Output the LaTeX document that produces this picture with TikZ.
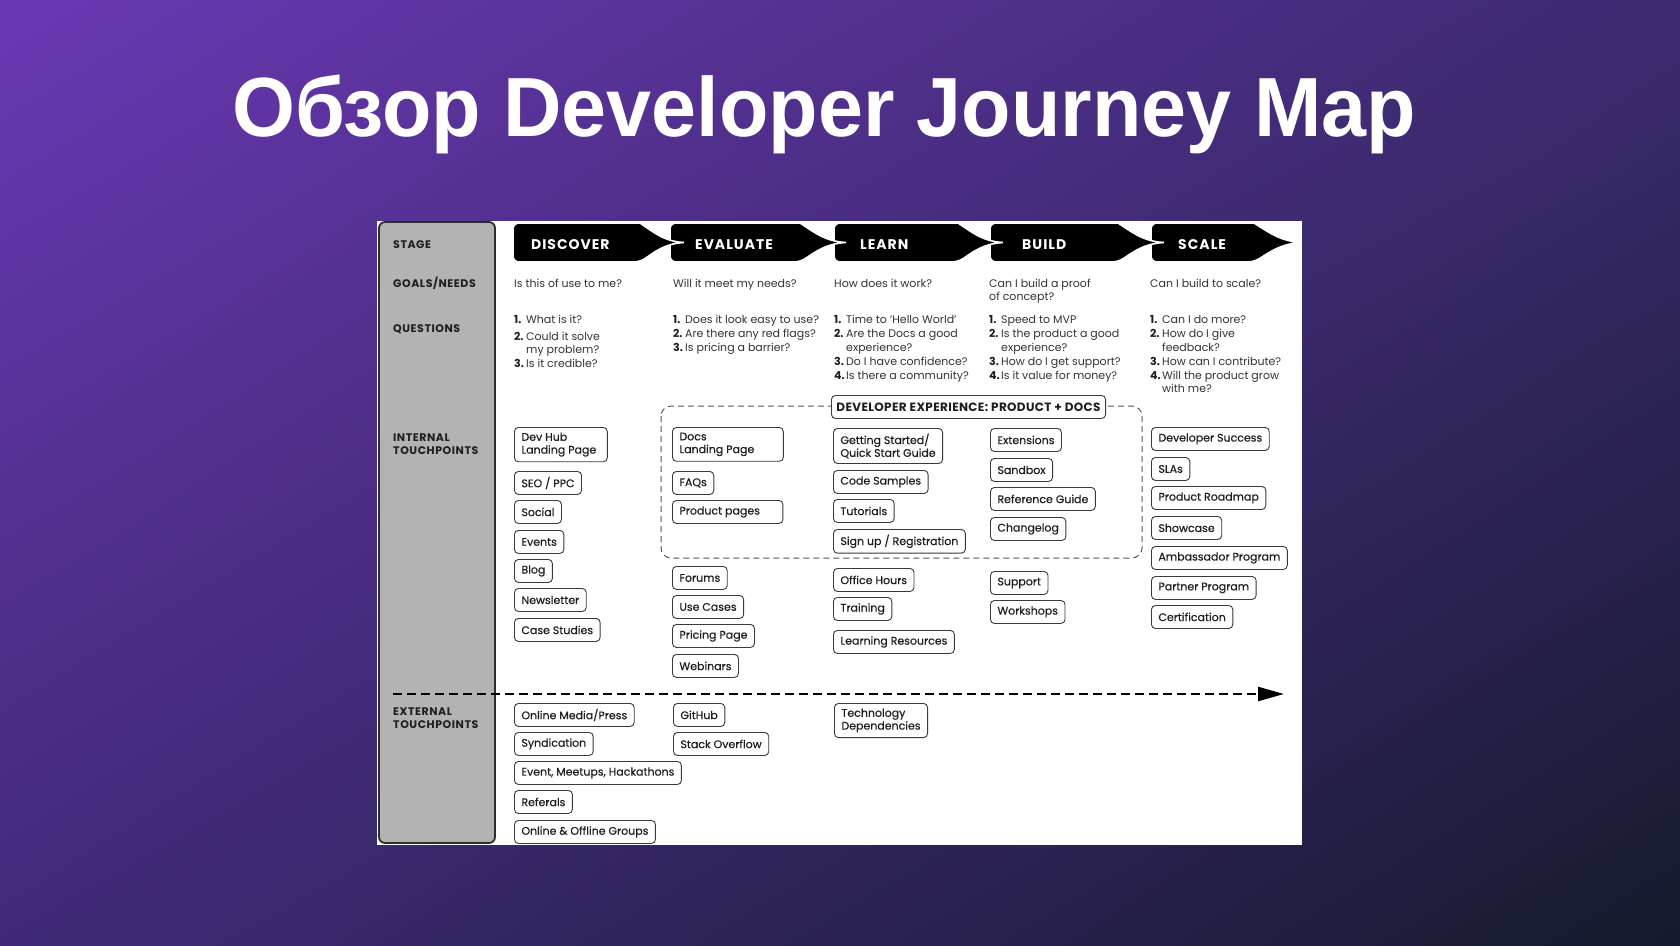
\documentclass[tikz,border=0pt]{standalone}
\usepackage{fontspec}
\setmainfont{Poppins}
\newfontfamily\titlefont{Liberation Sans}
\newfontfamily\medfont[FakeBold=0.4]{Poppins}
\usetikzlibrary{arrows.meta,shadings}
\definecolor{bgUL}{HTML}{6B38B3}
\definecolor{bgUR}{HTML}{3C2A70}
\definecolor{bgLL}{HTML}{402A78}
\definecolor{bgLR}{HTML}{161A2E}
\definecolor{boxline}{HTML}{3A3A3A}
\definecolor{txt}{HTML}{1E1E1E}
\definecolor{gtxt}{HTML}{333333}
\definecolor{side}{HTML}{B3B3B3}
\definecolor{sideline}{HTML}{2E2E2E}
\definecolor{dxline}{HTML}{555555}
\tikzset{
  tpbox/.style={draw=boxline, line width=0.9, rounded corners=4, fill=white,
    inner xsep=7, inner ysep=5.2, minimum height=23, align=left, anchor=north west,
    text=txt, font=\medfont\fontsize{11}{12.8}\selectfont},
  sidelabel/.style={anchor=base west, inner sep=0, text=txt, align=left,
    font=\bfseries\fontsize{11}{13}\selectfont\addfontfeatures{LetterSpace=5}},
  bannertext/.style={anchor=west, inner sep=0, text=white,
    font=\bfseries\fontsize{14}{16}\selectfont\addfontfeatures{LetterSpace=7}},
  goal/.style={anchor=base west, inner sep=0, text=gtxt, font=\fontsize{11}{13}\selectfont},
  qnum/.style={anchor=base west, inner sep=0, text=txt, font=\bfseries\fontsize{11}{13}\selectfont},
  qtxt/.style={anchor=base west, inner sep=0, text=gtxt, font=\fontsize{11}{13}\selectfont},
  bannershape/.style={fill=black, draw=white, line width=1.6},
}
\newcommand\banner[3]{%
  \filldraw[bannershape] (#2,223) [rounded corners=6] -- (#1,223) -- (#1,262) -- (#2,262) [sharp corners]
    .. controls ({#2+0.3*(#3-#2)},253) and ({#2+0.55*(#3-#2)},243.5) .. (#3,242.5)
    .. controls ({#2+0.55*(#3-#2)},241.5) and ({#2+0.3*(#3-#2)},232) .. (#2,223) -- cycle;}
% question line: name, x, y, number, text
\newcommand\ql[5]{\node[qnum] (#1n) at (#2,#3+4) {#4.};\node[qtxt] (#1) at (#2+12,#3+4) {#5};}
\newcommand\qc[4]{\node[qtxt] (#1) at (#2+12,#3+4) {#4};}
\begin{document}
\begin{tikzpicture}[x=1pt,y=-1pt]
\useasboundingbox (0,0) rectangle (1680,945);
\shade[upper left=bgUL, upper right=bgUR, lower left=bgLL, lower right=bgLR] (0,0) rectangle (1680,945);
% title
\node[anchor=base, inner sep=0, text=white, font=\titlefont\bfseries\fontsize{84}{90}\selectfont] (title) at (824,136) {\scalebox{0.963}[1]{Обзор Developer Journey Map}};
% panel
\fill[white] (377,221) rectangle (1302,845);
\filldraw[fill=side, draw=sideline, line width=1.8, rounded corners=6] (379,222) rectangle (495,843);
% side labels
\node[sidelabel] (lstage) at (393,248) {STAGE};
\node[sidelabel] (lgoals) at (393,287) {GOALS/NEEDS};
\node[sidelabel] (lquest) at (393,332) {QUESTIONS};
\node[sidelabel] (lint1) at (393,441) {INTERNAL};
\node[sidelabel] (lint2) at (393,454) {TOUCHPOINTS};
\node[sidelabel] (lext1) at (393,715) {EXTERNAL};
\node[sidelabel] (lext2) at (393,728) {TOUCHPOINTS};
% banners (right to left so each tip overlays the next)
\banner{1151}{1254}{1302}
\banner{990}{1118}{1164}
\banner{834}{958}{1003}
\banner{670}{800}{846}
\banner{513}{640}{684}
\node[bannertext] (bdisc) at (531,245) {DISCOVER};
\node[bannertext] (beval) at (695,245) {EVALUATE};
\node[bannertext] (blearn) at (860,245) {LEARN};
\node[bannertext] (bbuild) at (1022,245) {BUILD};
\node[bannertext] (bscale) at (1178,245) {SCALE};
% goals
\node[goal] (g1) at (514,287) {Is this of use to me?};
\node[goal] (g2) at (673,287) {Will it meet my needs?};
\node[goal] (g3) at (834,287) {How does it work?};
\node[goal] (g4a) at (989,287) {Can I build a proof};
\node[goal] (g4b) at (989,300) {of concept?};
\node[goal] (g5) at (1150,287) {Can I build to scale?};
% questions
\ql{qa1}{514}{319}{1}{What is it?}
\ql{qa2}{514}{336}{2}{Could it solve}
\qc{qa2b}{514}{349}{my problem?}
\ql{qa3}{514}{363}{3}{Is it credible?}
\ql{qb1}{673}{319}{1}{Does it look easy to use?}
\ql{qb2}{673}{333}{2}{Are there any red flags?}
\ql{qb3}{673}{347}{3}{Is pricing a barrier?}
\ql{qc1}{834}{319}{1}{Time to ‘Hello World’}
\ql{qc2}{834}{333}{2}{Are the Docs a good}
\qc{qc2b}{834}{347}{experience?}
\ql{qc3}{834}{361}{3}{Do I have confidence?}
\ql{qc4}{834}{375}{4}{Is there a community?}
\ql{qd1}{989}{319}{1}{Speed to MVP}
\ql{qd2}{989}{333}{2}{Is the product a good}
\qc{qd2b}{989}{347}{experience?}
\ql{qd3}{989}{361}{3}{How do I get support?}
\ql{qd4}{989}{375}{4}{Is it value for money?}
\ql{qe1}{1150}{319}{1}{Can I do more?}
\ql{qe2}{1150}{333}{2}{How do I give}
\qc{qe2b}{1150}{347}{feedback?}
\ql{qe3}{1150}{361}{3}{How can I contribute?}
\ql{qe4}{1150}{375}{4}{Will the product grow}
\qc{qe4b}{1150}{388}{with me?}
% developer experience region
\draw[dxline, line width=1, dash pattern=on 6 off 4, rounded corners=10] (661,406) rectangle (1142,558);
\node[tpbox, font=\bfseries\fontsize{12}{13}\selectfont\addfontfeatures{LetterSpace=3}, inner xsep=5, inner ysep=4, minimum height=23] (dx) at (831,395) {DEVELOPER EXPERIENCE: PRODUCT + DOCS};
% discover internal
\node[tpbox] (t11) at (514,427) {Dev Hub\\Landing Page\hspace*{4pt}};
\node[tpbox] (t12) at (514,471) {SEO / PPC};
\node[tpbox] (t13) at (514,500) {Social};
\node[tpbox] (t14) at (514,530) {Events};
\node[tpbox] (t15) at (514,559) {Blog};
\node[tpbox] (t16) at (514,588) {Newsletter};
\node[tpbox] (t17) at (514,618) {Case Studies};
% evaluate internal
\node[tpbox] (t21) at (672,427) {Docs\\Landing Page\hspace*{22pt}};
\node[tpbox] (t22) at (672,471) {FAQs};
\node[tpbox] (t23) at (672,500) {Product pages\hspace*{16pt}};
\node[tpbox] (t24) at (672,566) {Forums};
\node[tpbox] (t25) at (672,595) {Use Cases};
\node[tpbox] (t26) at (672,624) {Pricing Page};
\node[tpbox] (t27) at (672,654) {Webinars};
% learn internal
\node[tpbox] (t31) at (833,428) {Getting Started/\\Quick Start Guide};
\node[tpbox] (t32) at (833,470) {Code Samples};
\node[tpbox] (t33) at (833,499) {Tutorials};
\node[tpbox] (t34) at (833,529) {Sign up / Registration};
\node[tpbox] (t35) at (833,568) {Office Hours};
\node[tpbox] (t36) at (833,597) {Training};
\node[tpbox] (t37) at (833,630) {Learning Resources};
% build internal
\node[tpbox] (t41) at (990,428) {Extensions};
\node[tpbox] (t42) at (990,458) {Sandbox};
\node[tpbox] (t43) at (990,487) {Reference Guide};
\node[tpbox] (t44) at (990,517) {Changelog};
\node[tpbox] (t45) at (990,571) {Support};
\node[tpbox] (t46) at (990,600) {Workshops};
% scale internal
\node[tpbox] (t51) at (1151,427) {Developer Success};
\node[tpbox] (t52) at (1151,457) {SLAs};
\node[tpbox] (t53) at (1151,486) {Product Roadmap};
\node[tpbox] (t54) at (1151,516) {Showcase};
\node[tpbox] (t55) at (1151,546) {Ambassador Program};
\node[tpbox] (t56) at (1151,576) {Partner Program};
\node[tpbox] (t57) at (1151,605) {Certification};
% divider arrow
\coordinate (arrS) at (393,694);
\coordinate (arrE) at (1284,694);
\draw[line width=2.4, dash pattern=on 9 off 5, -{Triangle[length=26pt,width=14pt]}] (arrS) -- (arrE);
% external
\node[tpbox] (e11) at (514,703) {Online Media/Press};
\node[tpbox] (e12) at (514,732) {Syndication};
\node[tpbox] (e13) at (514,761) {Event, Meetups, Hackathons};
\node[tpbox] (e14) at (514,790) {Referals};
\node[tpbox] (e15) at (514,820) {Online \& Offline Groups};
\node[tpbox] (e21) at (673,703) {GitHub};
\node[tpbox] (e22) at (673,732) {Stack Overflow};
\node[tpbox] (e31) at (834,703) {Technology\\Dependencies};
\end{tikzpicture}
\end{document}
